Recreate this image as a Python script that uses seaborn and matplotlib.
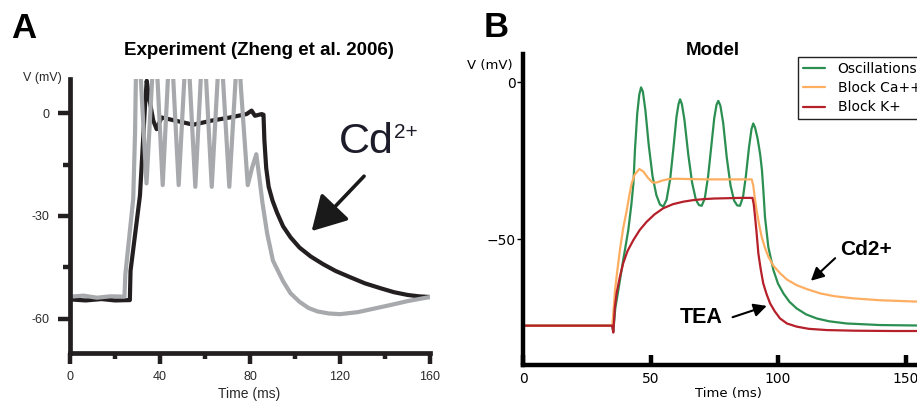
import matplotlib
matplotlib.use("Agg")
import matplotlib.pyplot as plt
import seaborn as sns

# ---------------- Panel A: recorded membrane potential ----------------
ctrl_t = [0, 6, 12, 18, 24.2, 24.6, 28.1, 28.9, 29.3, 30.3, 31.4, 34.0,
          36.6, 37.7, 38.8, 41.2,
          43.6, 44.7, 45.8, 48.3,
          50.9, 52.0, 53.1, 55.7,
          58.2, 59.3, 60.4, 63.0,
          65.7, 66.8, 67.9, 70.8,
          73.7, 74.8, 75.9, 79.0, 80.9, 82.8, 84.2, 85.5, 87.6, 90.2,
          94.7, 98.0, 102.0, 106.0, 110.0, 115.0, 120.0, 128.0, 135.0,
          142.0, 150.0, 155.0, 160.0]
ctrl_v = [-53.5, -53.2, -53.8, -53.4, -53.5, -47, -25, -6, 11, 22, 11, -20.5,
          11, 22, 11, -21,
          11, 22, 11, -21,
          11, 22, 11, -21.5,
          11, 22, 11, -21.5,
          11, 22, 11, -21.5,
          11, 22, 8, -21, -16, -12, -19, -26, -35, -43,
          -49, -52.5, -55, -56.8, -57.8, -58.4, -58.6, -58, -57,
          -56, -54.8, -54.2, -53.6]

cd_t = [0, 7, 14, 20, 26.6, 26.9, 31.1, 33.3, 34.1, 35.0, 37.0, 38.5,
        40.7, 46.7, 54.8, 63.0, 71.1, 78.5, 80.7, 82.2, 85.2, 86.0, 86.4,
        87.2, 88.3, 90.0, 92.0, 94.7, 98.0, 102.0, 107.0, 112.4, 118.0,
        124.4, 131.0, 137.8, 144.0, 150.0, 155.0, 160.0]
cd_v = [-54.3, -54.6, -54.2, -54.6, -54.5, -46, -24, 1.7, 9.4, 5, -2.2, -4.7,
        -1.3, -2.2, -3.4, -2.2, -1.3, -0.3, 0.7, -0.8, -0.3, -0.5, -8,
        -16, -21.5, -25.5, -29, -33, -36.2, -39.2, -41.8, -44, -46,
        -47.8, -49.6, -51, -52.2, -53, -53.4, -53.6]

exp_xticks = [0, 40, 80, 120, 160]
exp_xminor = [20, 60, 100, 140]
exp_yticks = [-60, -30, 0]
exp_yminor = [-45, -15]
exp_yticklabels = ["-60", "-30", "0"]

# ---------------- Panel B: model traces ----------------
osc_t = [0, 35, 35.4, 36.2, 37.4, 39.3, 41.3, 42.5, 43.3, 43.9, 44.8, 45.6,
         46.3, 47.0, 48.0, 49.3, 50.8, 52.3, 53.7, 55.0, 56.3, 57.7, 59.0,
         60.2, 61.0, 61.6, 62.3, 63.3, 64.8, 66.3, 67.8, 69.0, 70.1, 71.3,
         72.6, 73.9, 75.0, 75.9, 76.6, 77.4, 78.5, 79.9, 81.4, 82.8, 84.0,
         85.1, 86.3, 87.4, 88.6, 89.6, 90.3, 91.0, 92.0, 93.0, 93.7, 94.3,
         94.9, 96.2, 98.2, 100.0, 102.1, 104.5, 107.3, 111.0, 115.2, 120.0,
         126.9, 140.0, 160.0]
osc_v = [-77.6, -77.6, -79.5, -72, -66.2, -56.7, -47.1, -39, -32.3, -21.7, -10, -4,
         -1.7, -3, -9, -20, -30, -36, -39, -39.7, -37.5, -31, -21,
         -11, -7, -5.5, -7, -12, -23, -32, -37.5, -39.2, -39.4, -37,
         -30, -20, -11.5, -7.2, -6, -7.5, -13, -24, -33, -37.8, -39.3,
         -39.4, -36.5, -30, -21, -15, -13.2, -14.5, -18, -23, -28, -35,
         -43, -52.5, -59.9, -64.2, -67.3, -70, -72.1, -74, -75.3, -76.2,
         -76.9, -77.4, -77.6]

ca_t = [0, 35, 35.3, 36.1, 37.0, 38.0, 39.3, 40.7, 41.6, 42.6, 43.8, 45.6,
        47.2, 49.0, 50.8, 52.4, 54.5, 57.0, 60.3, 65.0, 72.0, 80.0, 89.7,
        90.3, 91.0, 91.6, 92.5, 93.6, 94.8, 96.2, 98.2, 100.8, 103.5, 107.3,
        111.5, 116.5, 122.0, 129.5, 140.0, 160.0]
ca_v = [-77.6, -77.6, -75, -66.2, -60, -53.5, -46.5, -40.8, -36.5, -32.3, -29.5, -27.7,
        -28.5, -30.5, -32, -32, -31.4, -30.9, -30.8, -30.9, -31, -31, -31,
        -33, -37.5, -40.8, -45, -49.3, -52.6, -55.6, -58.5, -60.9, -62.9, -64.7,
        -66, -67.3, -68.2, -68.9, -69.5, -70.1]

k_t = [0, 35, 35.4, 36.0, 36.7, 38.0, 39.3, 41.0, 43.3, 45.8, 48.5, 51.5,
       55.0, 58.8, 62.9, 66.8, 70.7, 75.0, 80.0, 85.0, 90.0, 90.5, 91.0,
       91.6, 92.3, 93.2, 94.2, 95.5, 96.9, 98.7, 100.8, 103.5, 107.3, 112.0,
       119.1, 130.0, 145.0, 160.0]
k_v = [-77.6, -77.6, -79.8, -72, -67.3, -62, -57.7, -53.8, -50.3, -47.1, -44.5, -42.2,
       -40.2, -38.9, -38.1, -37.6, -37.3, -37.1, -37.0, -36.9, -36.9, -39, -42.9,
       -48, -54.6, -59.5, -64.1, -67.5, -70.5, -73, -75.3, -76.9, -77.9, -78.6,
       -79.0, -79.2, -79.3, -79.3]

model_names = ["Oscillations", "Block Ca++", "Block K+"]
model_colors = ["#2b8f52", "#fdae61", "#b5202a"]
model_xticks = [0, 50, 100, 150]
model_yticks = [-50, 0]
model_yticklabels = ["\u221250", "0"]

# ---------------- figure ----------------
sns.set_theme(style="ticks")
plt.rcParams["font.family"] = ["DejaVu Sans"]
plt.rcParams["text.color"] = "black"
plt.rcParams["axes.labelcolor"] = "black"
plt.rcParams["xtick.color"] = "black"
plt.rcParams["ytick.color"] = "black"
W, H = 917, 401
fig = plt.figure(figsize=(W / 100, H / 100), dpi=100)
fig.patch.set_facecolor("white")


def fx(px):
    return px / W


def fy(py):
    return 1 - py / H


HELV = "Liberation Sans"

# ---- Panel A ----
axA = fig.add_axes([fx(70), fy(353.3), fx(360), (353.3 - 78.7) / H])
axA.set_facecolor("white")
sns.lineplot(x=cd_t, y=cd_v, ax=axA, color="#231f20", lw=3.0,
             sort=False, estimator=None)
sns.lineplot(x=ctrl_t, y=ctrl_v, ax=axA, color="#a7a9ac", lw=3.0,
             sort=False, estimator=None)
axA.set_xlim(0, 160)
axA.set_ylim(-70, 10)
for s in ["top", "right"]:
    axA.spines[s].set_visible(False)
for s in ["left", "bottom"]:
    axA.spines[s].set_linewidth(3.4)
    axA.spines[s].set_color("#231f20")
axA.set_xticks(exp_xticks)
axA.set_xticks(exp_xminor, minor=True)
axA.set_yticks(exp_yticks)
axA.set_yticks(exp_yminor, minor=True)
axA.set_yticklabels(exp_yticklabels)
axA.set_xticklabels([str(v) for v in exp_xticks])
axA.tick_params(axis="both", which="major", direction="out", width=3.2,
                color="#231f20", labelsize=9, labelcolor="#2a2a2a")
axA.tick_params(axis="y", which="major", length=8.5, pad=6)
axA.tick_params(axis="x", which="major", length=8, pad=5)
axA.tick_params(axis="y", which="minor", length=5, width=3.2, color="#231f20")
axA.tick_params(axis="x", which="minor", length=4, width=3.2, color="#231f20")
for lab in axA.get_xticklabels() + axA.get_yticklabels():
    lab.set_family(HELV)
axA.set_xlabel("")
axA.set_ylabel("")

fig.text(fx(42.5), fy(78), "V (mV)", ha="center", va="center",
         fontsize=9, family=HELV, color="#2a2a2a")
fig.text(fx(249.5), fy(394), "Time (ms)", ha="center", va="center",
         fontsize=10, family=HELV, color="#2a2a2a")

axA.annotate("", xy=(107.4, -34.4), xytext=(130.7, -18.4),
             arrowprops=dict(arrowstyle="-|>,head_length=0.42,head_width=0.24",
                             mutation_scale=50, lw=2.6, color="#1a1a1a",
                             shrinkA=0, shrinkB=0))
fig.text(fx(339), fy(153), "Cd", fontsize=31, family=HELV,
         color="#1c1c2a", ha="left", va="baseline")
fig.text(fx(394), fy(138), "2+", fontsize=15, family=HELV,
         color="#1c1c2a", ha="left", va="baseline")

# ---- Panel B ----
axB = fig.add_axes([fx(523), fy(364.6), fx(408), (364.6 - 53.8) / H])
axB.set_facecolor("white")
for t, v, name, col in zip([osc_t, ca_t, k_t], [osc_v, ca_v, k_v],
                           model_names, model_colors):
    sns.lineplot(x=t, y=v, ax=axB, color=col, lw=1.6, label=name,
                 sort=False, estimator=None)
axB.set_xlim(0, 160)
axB.set_ylim(-90, 9)
for s in ["top", "right"]:
    axB.spines[s].set_visible(False)
for s in ["left", "bottom"]:
    axB.spines[s].set_linewidth(3.2)
    axB.spines[s].set_color("black")
axB.set_xticks(model_xticks)
axB.set_xticklabels([str(v) for v in model_xticks])
axB.set_yticks(model_yticks)
axB.set_yticklabels(model_yticklabels)
axB.tick_params(axis="x", direction="in", length=7.5, width=3.2,
                color="black", labelsize=10, pad=5)
axB.tick_params(axis="y", direction="out", length=4, width=1,
                color="black", labelsize=10, pad=1)
axB.set_xlabel("")
axB.set_ylabel("")

leg = axB.legend(loc="upper left", bbox_to_anchor=(fx(798), fy(57)),
                 bbox_transform=fig.transFigure, frameon=True, fancybox=False,
                 fontsize=10, handlelength=1.6, handletextpad=0.9,
                 borderpad=0.35, labelspacing=0.38, borderaxespad=0)
leg.get_frame().set_edgecolor("#222222")
leg.get_frame().set_linewidth(1.0)
leg.get_frame().set_alpha(1)
for txt in leg.get_texts():
    txt.set_color("black")

fig.text(fx(490), fy(66), "V (mV)", ha="center", va="center", fontsize=9.5)
fig.text(fx(728), fy(393), "Time (ms)", ha="center", va="center", fontsize=9.5)

axB.annotate("", xy=(112.9, -63.3), xytext=(122.4, -56.1),
             arrowprops=dict(arrowstyle="-|>,head_length=0.55,head_width=0.28",
                             mutation_scale=14, lw=1.5, color="black",
                             shrinkA=0, shrinkB=0))
axB.annotate("", xy=(95.6, -71.3), xytext=(82.2, -74.9),
             arrowprops=dict(arrowstyle="-|>,head_length=0.55,head_width=0.28",
                             mutation_scale=14, lw=1.5, color="black",
                             shrinkA=0, shrinkB=0))
fig.text(fx(840), fy(255), "Cd2+", fontsize=15, fontweight="bold",
         family=HELV, ha="left", va="baseline")
fig.text(fx(680), fy(323), "TEA", fontsize=15.5, fontweight="bold",
         family=HELV, ha="left", va="baseline")

# ---- titles and panel letters ----
fig.text(fx(259), fy(55), "Experiment (Zheng et al. 2006)", ha="center",
         va="baseline", fontsize=13.5, fontweight="bold", family=HELV)
fig.text(fx(713), fy(55), "Model", ha="center", va="baseline",
         fontsize=13.5, fontweight="bold", family=HELV)
fig.text(fx(11), fy(38), "A", ha="left", va="baseline", fontsize=25,
         fontweight="bold", family=HELV)
fig.text(fx(484), fy(37), "B", ha="left", va="baseline", fontsize=25,
         fontweight="bold", family=HELV)

fig.savefig("out.png", dpi=100, facecolor="white")
